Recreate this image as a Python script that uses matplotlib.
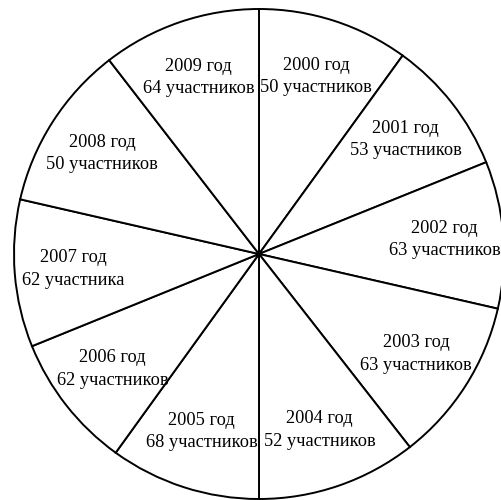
import matplotlib
matplotlib.use("Agg")
import matplotlib.pyplot as plt

# angular span of each sector in degrees, clockwise from 12 o'clock
sector_deg = [35.9, 32.1, 34.9, 39.1, 38.0, 35.8, 32.1, 35.0, 39.4, 37.7]
years = [2000, 2001, 2002, 2003, 2004, 2005, 2006, 2007, 2008, 2009]
participants = [50, 53, 63, 63, 52, 68, 62, 62, 50, 64]
noun = ["участников"] * 7 + ["участника"] + ["участников"] * 2

labels = [f"{y} год\n{n} {w}" for y, n, w in zip(years, participants, noun)]

plt.rcParams['font.family'] = ['Liberation Serif', 'DejaVu Serif']

fig = plt.figure(figsize=(5.01, 5.00), dpi=100)
lim = 1.02
r_px = 245
cx, cy = 259, 500 - 254
size = 2 * lim * r_px
ax = fig.add_axes([(cx - size / 2) / 501, (cy - size / 2) / 500, size / 501, size / 500])

ax.pie(sector_deg, labels=labels, startangle=90, counterclock=False,
       colors=['white'] * len(sector_deg), labeldistance=0.76,
       wedgeprops={'edgecolor': 'black', 'linewidth': 1.4},
       textprops={'ha': 'center', 'va': 'center', 'fontsize': 13.2,
                  'linespacing': 1.4})
ax.set_xlim(-lim, lim)
ax.set_ylim(-lim, lim)
ax.axis('off')

fig.savefig("out.png", dpi=100)
